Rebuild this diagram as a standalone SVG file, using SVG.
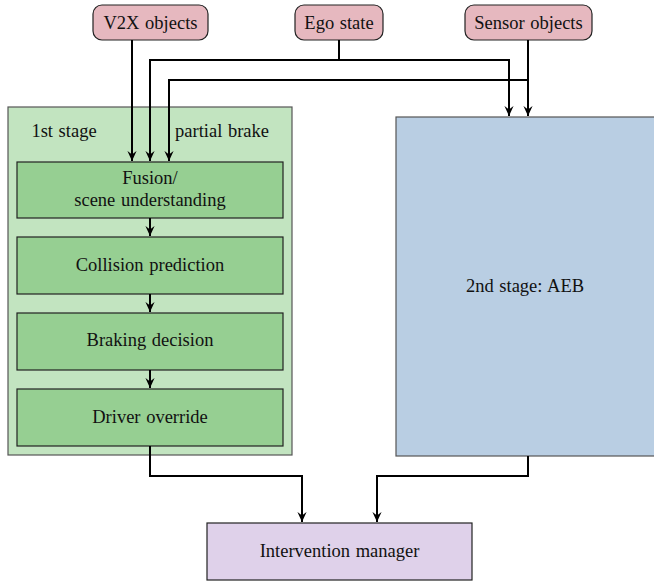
<svg xmlns="http://www.w3.org/2000/svg" width="654" height="582" viewBox="0 0 654 582">
<defs>
<style>
text{font-size:18.5px;fill:#111;text-anchor:middle;word-spacing:1px}
.src{fill:#e6b8bf;stroke:#222;stroke-width:1.2}
.outer{fill:#c2e4c0;stroke:#555;stroke-width:1.2}
.inner{fill:#96cf92;stroke:#222;stroke-width:1.2}
.aeb{fill:#b9cee3;stroke:#555;stroke-width:1.2}
.im{fill:#dfd1ea;stroke:#222;stroke-width:1.2}
.c{fill:none;stroke:#000;stroke-width:2}
</style>
<marker id="a" viewBox="0 0 12 12" refX="11" refY="6" markerWidth="11" markerHeight="11" orient="auto" markerUnits="userSpaceOnUse">
<path d="M0,1 L11,6 L0,11 L4,6 Z" fill="#000"/>
</marker>
</defs>
<g font-family="'Tinos', 'Times New Roman', 'Liberation Serif', 'Nimbus Roman', 'DejaVu Serif', serif">
<g id="stage1">
<rect class="outer" x="8" y="107" width="284" height="348"/>
<text x="64" y="137">1st stage</text>
<text x="222" y="137">partial brake</text>
</g>
<g id="stage2">
<rect class="aeb" x="396" y="117" width="262" height="339"/>
<text x="525" y="292">2nd stage: AEB</text>
</g>
<g id="v2x"><rect class="src" x="93" y="5" width="115" height="35" rx="9"/><text x="150.5" y="29">V2X objects</text></g>
<g id="ego"><rect class="src" x="295" y="5" width="88" height="35" rx="9"/><text x="339" y="29">Ego state</text></g>
<g id="sensor"><rect class="src" x="465" y="5" width="127" height="35" rx="9"/><text x="528.5" y="29">Sensor objects</text></g>
<g id="fusion"><rect class="inner" x="17" y="162" width="266" height="56"/><text x="150" y="184">Fusion/</text><text x="150" y="206">scene understanding</text></g>
<g id="collision"><rect class="inner" x="17" y="237" width="266" height="57"/><text x="150" y="271">Collision prediction</text></g>
<g id="braking"><rect class="inner" x="17" y="313" width="266" height="57"/><text x="150" y="346">Braking decision</text></g>
<g id="override"><rect class="inner" x="17" y="389" width="266" height="57"/><text x="150" y="423">Driver override</text></g>
<g id="intervention"><rect class="im" x="207" y="523" width="265" height="57"/><text x="339.5" y="557">Intervention manager</text></g>
</g>
<g id="connectors">
<path class="c" d="M132,40 V161" marker-end="url(#a)"/>
<path class="c" d="M339,40 V60 H150 V161" marker-end="url(#a)"/>
<path class="c" d="M339,60 H509 V116" marker-end="url(#a)"/>
<path class="c" d="M528,40 V116" marker-end="url(#a)"/>
<path class="c" d="M528,80 H169 V161" marker-end="url(#a)"/>
<path class="c" d="M150,218 V236" marker-end="url(#a)"/>
<path class="c" d="M150,294 V312" marker-end="url(#a)"/>
<path class="c" d="M150,370 V388" marker-end="url(#a)"/>
<path class="c" d="M150,446 V476 H302 V522" marker-end="url(#a)"/>
<path class="c" d="M528,456 V476 H377 V522" marker-end="url(#a)"/>
</g>
</svg>
